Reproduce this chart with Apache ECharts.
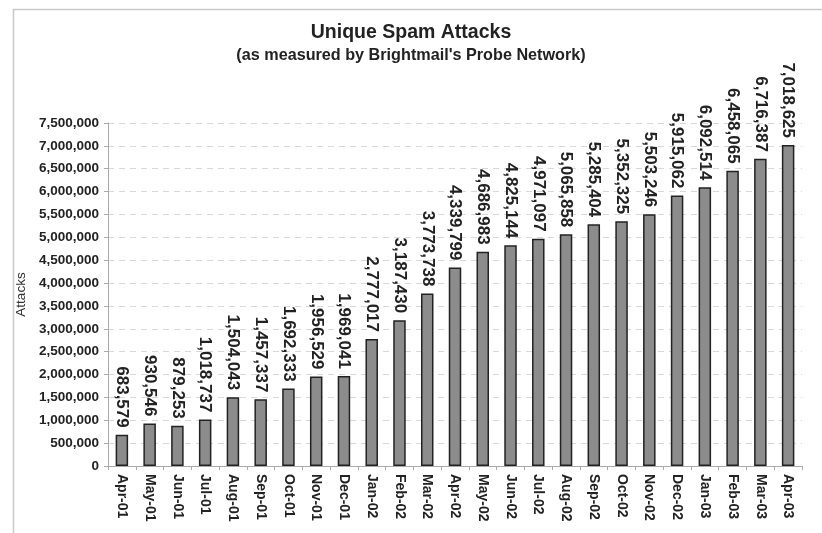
<!DOCTYPE html>
<html><head><meta charset="utf-8">
<script src="https://cdn.jsdelivr.net/npm/echarts@6/dist/echarts.min.js"></script>
<style>html,body{margin:0;padding:0;background:#fff}#c{width:822px;height:533px}</style>
</head><body><div id="c"></div>
<script>
const categories = ["Apr-01","May-01","Jun-01","Jul-01","Aug-01","Sep-01","Oct-01","Nov-01","Dec-01","Jan-02","Feb-02","Mar-02","Apr-02","May-02","Jun-02","Jul-02","Aug-02","Sep-02","Oct-02","Nov-02","Dec-02","Jan-03","Feb-03","Mar-03","Apr-03"];
const attacks = [683579,930546,879253,1018737,1504043,1457337,1692333,1956529,1969041,2777017,3187430,3773738,4339799,4686983,4825144,4971097,5065858,5285404,5352325,5503246,5915062,6092514,6458065,6716387,7018625];
const titleText = "Unique Spam Attacks";
const subtitleText = "(as measured by Brightmail's Probe Network)";
const yAxisName = "Attacks";

const fmt = v => v.toLocaleString('en-US');
const chart = echarts.init(document.getElementById('c'), null, {renderer:'canvas'});
chart.setOption({
  animation:false,
  backgroundColor:'#fff',
  graphic:[{type:'rect',left:11,top:7,shape:{width:840,height:560},style:{fill:'none',stroke:'#c8c8c8',lineWidth:1.5},silent:true}],
  title:[
    {text:titleText,left:'center',top:18,textStyle:{fontFamily:'Liberation Sans',fontWeight:'bold',fontSize:19.5,color:'#222'}},
    {text:subtitleText,left:'center',top:43,textStyle:{fontFamily:'Liberation Sans',fontWeight:'bold',fontSize:16.2,color:'#222'}}
  ],
  grid:{left:108,right:20,top:123,bottom:67},
  xAxis:{type:'category',data:categories,boundaryGap:true,
    axisLine:{lineStyle:{color:'#aaa'}},
    axisTick:{show:true,alignWithLabel:false,length:4,lineStyle:{color:'#aaa'}},
    axisLabel:{rotate:-90,interval:0,margin:8,fontFamily:'Liberation Sans',fontWeight:'bold',fontSize:14,color:'#222'}},
  yAxis:{type:'value',min:0,max:7500000,interval:500000,
    name:yAxisName,nameLocation:'middle',nameGap:80,nameRotate:90,
    nameTextStyle:{fontFamily:'Liberation Sans',fontSize:13.5,color:'#333'},
    axisLine:{show:true,lineStyle:{color:'#aaa'}},
    axisTick:{show:true,length:4,lineStyle:{color:'#aaa'}},
    splitLine:{show:true,lineStyle:{color:'#d8d8d8',type:[6,5]}},
    axisLabel:{formatter:v=>fmt(v),margin:9,fontFamily:'Liberation Sans',fontWeight:'bold',fontSize:13.5,color:'#222'}},
  series:[{type:'bar',data:attacks,barWidth:'45%',
    itemStyle:{color:'#8c8c8c',borderColor:'#222',borderWidth:1.5},
    label:{show:true,position:'top',rotate:-90,align:'right',verticalAlign:'middle',distance:7,
      formatter:p=>fmt(p.value),fontFamily:'Liberation Sans',fontWeight:'bold',fontSize:17,color:'#222'}}]
});
</script></body></html>
